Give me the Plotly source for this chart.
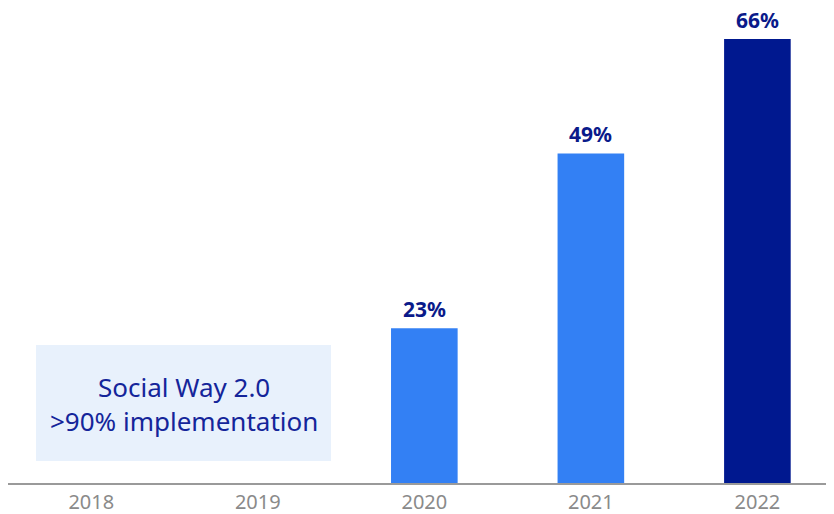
import plotly.graph_objects as go

years = ["2018", "2019", "2020", "2021", "2022"]
values = [None, None, 23, 49, 66]
labels = ["", "", "23%", "49%", "66%"]
colors = ["#3380F4", "#3380F4", "#3380F4", "#3380F4", "#00188F"]

# page is offset by body margin of 8px; figure drawn at (8, 8)
W, H = 826, 506
PLOT_BOTTOM = 475  # fig px

fig = go.Figure()
fig.add_trace(go.Bar(
    x=years, y=values, marker=dict(color=colors, line=dict(width=0)),
    width=0.4, hoverinfo="skip",
))

for i, (v, lab) in enumerate(zip(values, labels)):
    if v is None:
        continue
    fig.add_annotation(xref="x", yref="y", x=i, y=v, text="<b>" + lab + "</b>",
                       showarrow=False, xanchor="center", yanchor="bottom",
                       yshift=4, borderpad=0,
                       font=dict(family="Noto Sans", size=21, color="#0A1A8A"))

def px(xp):
    return (xp - 8) / W

def py(yp):
    return (PLOT_BOTTOM - (yp - 8)) / PLOT_BOTTOM

fig.add_shape(type="rect", xref="paper", yref="paper",
              x0=px(36), x1=px(331), y0=py(461), y1=py(345),
              fillcolor="#E8F1FC", line=dict(width=0), layer="below")
fig.add_annotation(xref="paper", yref="paper",
                   x=px(183.5), y=py(404), xanchor="center", yanchor="middle",
                   text="Social Way 2.0<br>>90% implementation",
                   showarrow=False, align="center",
                   font=dict(family="Noto Sans", size=26, color="#14259A"))

fig.update_layout(
    width=W, height=H,
    margin=dict(l=0, r=0, t=0, b=H - PLOT_BOTTOM),
    plot_bgcolor="white", paper_bgcolor="white",
    showlegend=False,
    xaxis=dict(type="category", range=[-0.5, 4.46], showgrid=False,
               showline=True, linecolor="#9A9A9A", linewidth=1.5,
               ticks="", automargin=False,
               tickfont=dict(family="Noto Sans", size=20, color="#8A8A8A"),
               fixedrange=True),
    yaxis=dict(range=[0, PLOT_BOTTOM / 6.727], visible=False, fixedrange=True),
)

fig.write_html("out.html")
